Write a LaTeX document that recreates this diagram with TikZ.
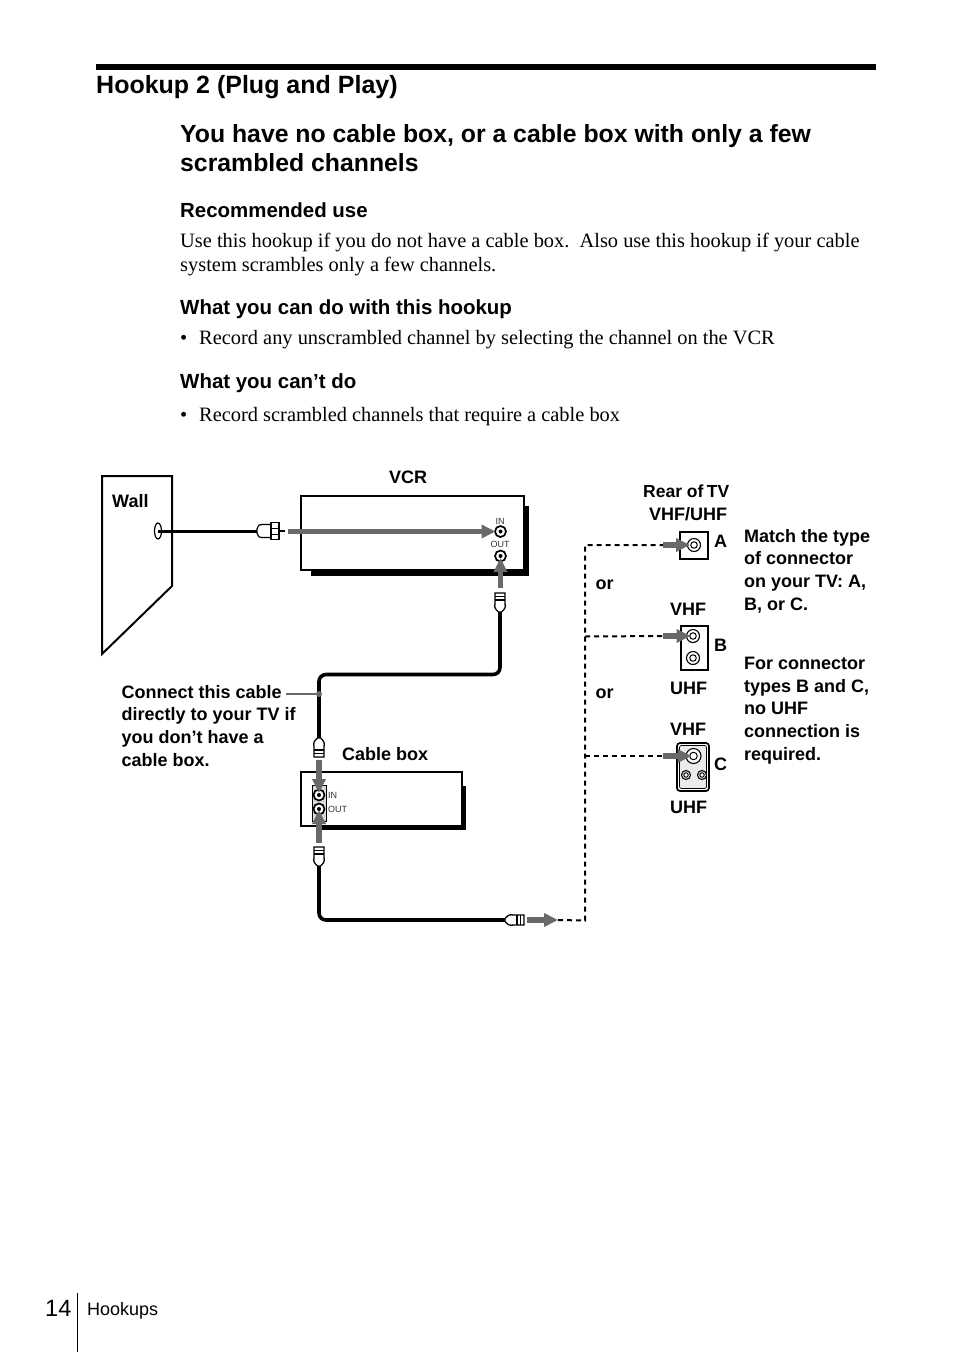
\documentclass[tikz,border=0pt]{standalone}
\usepackage{fontspec}
\setmainfont{Liberation Serif}
\setsansfont{Liberation Sans}
\usetikzlibrary{arrows.meta,shapes.geometric}
\definecolor{flowgray}{RGB}{105,105,105}
\tikzset{
  >={Triangle[length=14pt,width=13pt]},
  head/.style={anchor=base west,inner sep=0,font=\sffamily\bfseries\fontsize{#1}{#1}\selectfont},
  head/.default=20.45,
  body/.style={anchor=base west,inner sep=0,font=\fontsize{20.4}{24}\selectfont},
  tag/.style={anchor=base west,inner sep=0,font=\sffamily\bfseries\fontsize{18}{18}\selectfont},
  note/.style={anchor=north west,inner sep=0,align=left,font=\sffamily\bfseries\fontsize{18}{22.7}\selectfont},
  small/.style={inner sep=0,text=black!80,font=\sffamily\fontsize{9}{9}\selectfont},
  panel/.style={draw,line width=2pt,fill=white},
  shade/.style={fill=black},
  cable/.style={line width=3.6pt,rounded corners=7pt},
  flow/.style={->,line width=5.5pt,draw=flowgray,shorten >=#1},
  flow/.default=2pt,
  branch/.style={line width=2pt,dash pattern=on 5pt off 4pt},
  jack/.style={circle,draw,line width=1.7pt,fill=white,inner sep=0,minimum size=#1,
    path picture={\fill[black] (path picture bounding box.center) circle (2pt);}},
  jack/.default=11pt,
  ring/.style={circle,draw,line width=1.1pt,fill=white,inner sep=0,minimum size=#1,
    path picture={\draw[line width=1pt] (path picture bounding box.center) circle (0.25*#1);}},
  % connectors
  pics/plug/.style={code={
    \draw[fill=white,line width=1.3pt] (0,-1.5) .. controls (4,-5.5) .. (9,-5) -- (19,-5) -- (19,5) -- (9,5) .. controls (4,5.5) .. (0,1.5) -- cycle;
    \draw[line width=1.3pt] (12,-5) -- (12,5) (15.5,-5) -- (15.5,5);
  }},
  pics/fplug/.style={code={
    \draw[line width=2pt] (20,0) -- (28,0);
    \draw[fill=white,line width=1.2pt] (0,-2) .. controls (2,-6.5) .. (5,-6.5) -- (14,-6.5) -- (14,6.5) -- (5,6.5) .. controls (2,6.5) .. (0,2) -- cycle;
    \draw[fill=white,line width=1.2pt] (14,-8.5) -- (22,-8.5) -- (22,8.5) -- (14,8.5) -- cycle;
    \draw[line width=1pt] (14,-3) -- (22,-3) (14,3) -- (22,3);
  }},
}
\begin{document}
\begin{tikzpicture}[x=1pt,y=-1pt]
  \useasboundingbox (0,0) rectangle (954,1352);
  % page text
  \fill (96,64) rectangle (876,70);
  \node[head=25] (title) at (96,93) {Hookup 2 (Plug and Play)};
  \node[head=24.8] (sub1) at (180,142) {You have no cable box, or a cable box with only a few};
  \node[head=24.8] (sub2) at (180,171) {scrambled channels};
  \node[head] (use) at (180,217) {Recommended use};
  \node[body] (use1) at (180,247) {Use this hookup if you do not have a cable box.\ \ Also use this hookup if your cable};
  \node[body] (use2) at (180,271) {system scrambles only a few channels.};
  \node[head] (can) at (180,314) {What you can do with this hookup};
  \node[body] (canb) at (180,344) {•};
  \node[body] (can1) at (199,344) {Record any unscrambled channel by selecting the channel on the VCR};
  \node[head] (cant) at (180,388) {What you can’t do};
  \node[body] (cantb) at (180,421) {•};
  \node[body] (cant1) at (199,421) {Record scrambled channels that require a cable box};
  % wall
  \draw[line width=2pt] (102,476) -- (172,476) -- (172,586) -- (102,654) -- cycle;
  \node[tag] (wall) at (112,507) {Wall};
  \node[draw,ellipse,line width=1.2pt,minimum width=7pt,minimum height=16pt,inner sep=0] (hole) at (158,531) {};
  % vcr
  \node[tag] (vcrlabel) at (389,483) {VCR};
  \fill[shade] (311,506) rectangle (529,576);
  \draw[panel] (301,496) rectangle (524,570);
  \node[jack] (vcrin) at (500.5,531.5) {};
  \node[jack] (vcrout) at (500.5,556) {};
  \node[small] (vcrinlabel) at (500,521) {IN};
  \node[small] (vcroutlabel) at (500,544) {OUT};
  % cable box
  \node[tag] (boxlabel) at (342,760) {Cable box};
  \fill[shade] (320,786) rectangle (466,830);
  \draw[panel] (301,772) rectangle (462,826);
  \draw[fill=black!15,line width=1pt] (312,785) rectangle (326,821);
  \node[jack] (boxin) at (319,795) {};
  \node[jack] (boxout) at (319,809) {};
  \node[small,anchor=west] (boxinlabel) at (328,795) {IN};
  \node[small,anchor=west] (boxoutlabel) at (328,809) {OUT};
  % cables
  \coordinate (wallend) at (257,531);
  \coordinate (vcrend) at (500,612);
  \coordinate (boxtop) at (319,738);
  \coordinate (boxbot) at (319,866);
  \coordinate (tvend) at (505,920);
  \coordinate (hit) at (319,694);
  \draw[line width=3pt] (hole.center) -- (wallend);
  \draw[cable] (vcrend) |- (319,674.5) -- (boxtop);
  \draw[cable] (boxbot) |- (tvend);
  \pic at (wallend) {fplug};
  \pic[rotate=90] at (vcrend) {plug};
  \pic[rotate=-90] at (boxtop) {plug};
  \pic[rotate=90] at (boxbot) {plug};
  \pic at (tvend) {plug};
  % arrows into jacks
  \coordinate (vcrinstart) at (288,531.5);
  \coordinate (vcroutstart) at (500.5,588);
  \coordinate (boxinstart) at (319,760);
  \coordinate (boxoutstart) at (319,843);
  \coordinate (tvstart) at (527,920);
  \coordinate (tvtip) at (558,920);
  \draw[flow=5pt] (vcrinstart) -- (vcrin.center);
  \draw[flow] (vcroutstart) -- (vcrout.center);
  \draw[flow] (boxinstart) -- (boxin.center);
  \draw[flow=1pt] (boxoutstart) -- (boxout.center);
  \draw[flow=0pt] (tvstart) -- (tvtip);
  % callout
  \node[note] (direct) at (121.5,685) {Connect this cable\\directly to your TV if\\you don’t have a\\cable box.};
  \node[circle,fill=flowgray,inner sep=0,minimum size=6pt] (dot) at (hit) {};
  \draw[line width=1.2pt,draw=flowgray] (286,694) -- (dot);
  % rear of tv
  \node[tag,font=\sffamily\bfseries\fontsize{17.5}{18}\selectfont] (rear) at (643,497) {Rear of\hspace{-1.5pt} TV};
  \node[tag] (vhfuhf) at (649,520) {VHF/UHF};
  \draw[line width=2pt,fill=white] (680,532) rectangle (708,559);
  \draw[line width=1.5pt,fill=white] (681,626) rectangle (708,670);
  \draw[line width=1.7pt,fill=white,rounded corners=3pt] (677,743) rectangle (709,791);
  \draw[line width=0.7pt,fill=black!8,rounded corners=2pt] (679.5,745.5) rectangle (706.5,788.5);
  \node[ring=13pt] (jacka) at (694,545) {};
  \node[ring=13pt] (jackb) at (693,636) {};
  \node[ring=13pt] (jackbu) at (693,658) {};
  \node[ring=15pt] (jackc) at (693.5,756) {};
  \node[ring=9pt] (jackcl) at (686,775) {};
  \node[ring=9pt] (jackcr) at (702,775) {};
  \node[tag] (a) at (714,547) {A};
  \node[tag] (b) at (714,651) {B};
  \node[tag] (c) at (714,770) {C};
  \node[tag] (vhfb) at (670,615) {VHF};
  \node[tag] (uhfb) at (670,694) {UHF};
  \node[tag] (vhfc) at (670,735) {VHF};
  \node[tag] (uhfc) at (670,813) {UHF};
  \node[tag] (or1) at (595.5,589) {or};
  \node[tag] (or2) at (595.5,698) {or};
  % dashed branches
  \coordinate (starta) at (663,545);
  \coordinate (startb) at (663,636);
  \coordinate (startc) at (663,756);
  \draw[branch] (tvtip) -- (585,920.5) -- (585,545) -- (starta);
  \draw[branch] (585,636.5) -- (startb);
  \draw[branch] (585,756) -- (startc);
  \draw[flow=4pt] (starta) -- (jacka.center);
  \draw[flow=2.5pt] (startb) -- (jackb.center);
  \draw[flow=2pt] (startc) -- (jackc.center);
  \node[note] (match) at (744,529) {Match the type\\of connector\\on your TV: A,\\B, or C.};
  \node[note] (types) at (744,657) {For connector\\types B and C,\\no UHF\\connection is\\required.};
  % footer
  \node[anchor=base west,inner sep=0,font=\sffamily\fontsize{23.5}{24}\selectfont] (pageno) at (45,1316) {14};
  \draw[line width=1pt] (77,1293) -- (77,1352);
  \node[anchor=base west,inner sep=0,font=\sffamily\fontsize{18}{18}\selectfont] (foot) at (87,1315) {Hookups};
\end{tikzpicture}
\end{document}
